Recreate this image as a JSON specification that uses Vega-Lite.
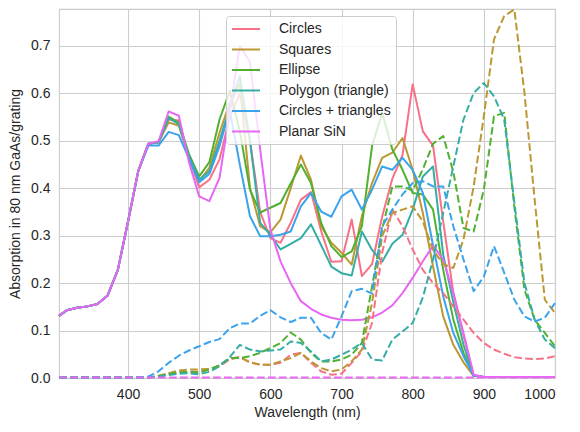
{
  "$schema": "https://vega.github.io/schema/vega-lite/v6.json",
  "autosize": "none",
  "width": 496,
  "height": 369,
  "padding": {"left": 59, "top": 9, "right": 25, "bottom": 54},
  "background": "white",
  "datasets": {
    "solid": [
      {"wl": 303, "Circles": 0.131, "Squares": 0.131, "Ellipse": 0.131, "Polygon (triangle)": 0.131, "Circles + triangles": 0.131, "Planar SiN": 0.131},
      {"wl": 314.3, "Circles": 0.143, "Squares": 0.143, "Ellipse": 0.143, "Polygon (triangle)": 0.143, "Circles + triangles": 0.143, "Planar SiN": 0.143},
      {"wl": 328.6, "Circles": 0.148, "Squares": 0.148, "Ellipse": 0.148, "Polygon (triangle)": 0.148, "Circles + triangles": 0.148, "Planar SiN": 0.148},
      {"wl": 342.9, "Circles": 0.151, "Squares": 0.151, "Ellipse": 0.151, "Polygon (triangle)": 0.151, "Circles + triangles": 0.151, "Planar SiN": 0.151},
      {"wl": 357.1, "Circles": 0.156, "Squares": 0.156, "Ellipse": 0.156, "Polygon (triangle)": 0.156, "Circles + triangles": 0.156, "Planar SiN": 0.156},
      {"wl": 371.4, "Circles": 0.174, "Squares": 0.174, "Ellipse": 0.174, "Polygon (triangle)": 0.174, "Circles + triangles": 0.174, "Planar SiN": 0.174},
      {"wl": 385.7, "Circles": 0.228, "Squares": 0.228, "Ellipse": 0.228, "Polygon (triangle)": 0.228, "Circles + triangles": 0.228, "Planar SiN": 0.228},
      {"wl": 400, "Circles": 0.33, "Squares": 0.33, "Ellipse": 0.33, "Polygon (triangle)": 0.33, "Circles + triangles": 0.33, "Planar SiN": 0.33},
      {"wl": 414.3, "Circles": 0.436, "Squares": 0.436, "Ellipse": 0.436, "Polygon (triangle)": 0.436, "Circles + triangles": 0.436, "Planar SiN": 0.436},
      {"wl": 428.6, "Circles": 0.494, "Squares": 0.494, "Ellipse": 0.494, "Polygon (triangle)": 0.494, "Circles + triangles": 0.49, "Planar SiN": 0.494},
      {"wl": 442.9, "Circles": 0.497, "Squares": 0.497, "Ellipse": 0.497, "Polygon (triangle)": 0.497, "Circles + triangles": 0.49, "Planar SiN": 0.499},
      {"wl": 457.1, "Circles": 0.545, "Squares": 0.539, "Ellipse": 0.551, "Polygon (triangle)": 0.548, "Circles + triangles": 0.519, "Planar SiN": 0.562},
      {"wl": 471.4, "Circles": 0.543, "Squares": 0.532, "Ellipse": 0.538, "Polygon (triangle)": 0.535, "Circles + triangles": 0.512, "Planar SiN": 0.553},
      {"wl": 485.7, "Circles": 0.465, "Squares": 0.465, "Ellipse": 0.472, "Polygon (triangle)": 0.468, "Circles + triangles": 0.462, "Planar SiN": 0.455},
      {"wl": 500, "Circles": 0.402, "Squares": 0.415, "Ellipse": 0.425, "Polygon (triangle)": 0.418, "Circles + triangles": 0.413, "Planar SiN": 0.383},
      {"wl": 514.3, "Circles": 0.418, "Squares": 0.443, "Ellipse": 0.455, "Polygon (triangle)": 0.436, "Circles + triangles": 0.43, "Planar SiN": 0.373},
      {"wl": 528.6, "Circles": 0.461, "Squares": 0.517, "Ellipse": 0.545, "Polygon (triangle)": 0.5, "Circles + triangles": 0.489, "Planar SiN": 0.422},
      {"wl": 542.9, "Circles": 0.55, "Squares": 0.58, "Ellipse": 0.605, "Polygon (triangle)": 0.57, "Circles + triangles": 0.565, "Planar SiN": 0.56},
      {"wl": 557.1, "Circles": 0.6, "Squares": 0.62, "Ellipse": 0.52, "Polygon (triangle)": 0.636, "Circles + triangles": 0.45, "Planar SiN": 0.7},
      {"wl": 571.4, "Circles": 0.5, "Squares": 0.4, "Ellipse": 0.397, "Polygon (triangle)": 0.5, "Circles + triangles": 0.341, "Planar SiN": 0.666},
      {"wl": 585.7, "Circles": 0.35, "Squares": 0.32, "Ellipse": 0.349, "Polygon (triangle)": 0.327, "Circles + triangles": 0.299, "Planar SiN": 0.482},
      {"wl": 600, "Circles": 0.295, "Squares": 0.307, "Ellipse": 0.359, "Polygon (triangle)": 0.302, "Circles + triangles": 0.299, "Planar SiN": 0.313},
      {"wl": 614.3, "Circles": 0.285, "Squares": 0.334, "Ellipse": 0.369, "Polygon (triangle)": 0.271, "Circles + triangles": 0.302, "Planar SiN": 0.246},
      {"wl": 628.6, "Circles": 0.327, "Squares": 0.4, "Ellipse": 0.41, "Polygon (triangle)": 0.283, "Circles + triangles": 0.309, "Planar SiN": 0.2},
      {"wl": 642.9, "Circles": 0.376, "Squares": 0.469, "Ellipse": 0.45, "Polygon (triangle)": 0.295, "Circles + triangles": 0.362, "Planar SiN": 0.162},
      {"wl": 657.1, "Circles": 0.392, "Squares": 0.418, "Ellipse": 0.411, "Polygon (triangle)": 0.324, "Circles + triangles": 0.39, "Planar SiN": 0.146},
      {"wl": 671.4, "Circles": 0.31, "Squares": 0.32, "Ellipse": 0.327, "Polygon (triangle)": 0.28, "Circles + triangles": 0.351, "Planar SiN": 0.134},
      {"wl": 685.7, "Circles": 0.245, "Squares": 0.285, "Ellipse": 0.278, "Polygon (triangle)": 0.235, "Circles + triangles": 0.34, "Planar SiN": 0.127},
      {"wl": 700, "Circles": 0.246, "Squares": 0.264, "Ellipse": 0.255, "Polygon (triangle)": 0.221, "Circles + triangles": 0.383, "Planar SiN": 0.123},
      {"wl": 714.3, "Circles": 0.334, "Squares": 0.239, "Ellipse": 0.267, "Polygon (triangle)": 0.216, "Circles + triangles": 0.397, "Planar SiN": 0.122},
      {"wl": 728.6, "Circles": 0.215, "Squares": 0.341, "Ellipse": 0.32, "Polygon (triangle)": 0.309, "Circles + triangles": 0.355, "Planar SiN": 0.123},
      {"wl": 742.9, "Circles": 0.24, "Squares": 0.411, "Ellipse": 0.489, "Polygon (triangle)": 0.27, "Circles + triangles": 0.397, "Planar SiN": 0.128},
      {"wl": 757.1, "Circles": 0.34, "Squares": 0.464, "Ellipse": 0.559, "Polygon (triangle)": 0.245, "Circles + triangles": 0.446, "Planar SiN": 0.138},
      {"wl": 771.4, "Circles": 0.42, "Squares": 0.475, "Ellipse": 0.482, "Polygon (triangle)": 0.283, "Circles + triangles": 0.439, "Planar SiN": 0.153},
      {"wl": 785.7, "Circles": 0.47, "Squares": 0.506, "Ellipse": 0.439, "Polygon (triangle)": 0.302, "Circles + triangles": 0.464, "Planar SiN": 0.179},
      {"wl": 800, "Circles": 0.619, "Squares": 0.439, "Ellipse": 0.39, "Polygon (triangle)": 0.355, "Circles + triangles": 0.439, "Planar SiN": 0.211},
      {"wl": 814.3, "Circles": 0.52, "Squares": 0.348, "Ellipse": 0.387, "Polygon (triangle)": 0.425, "Circles + triangles": 0.39, "Planar SiN": 0.246},
      {"wl": 828.6, "Circles": 0.49, "Squares": 0.235, "Ellipse": 0.355, "Polygon (triangle)": 0.446, "Circles + triangles": 0.28, "Planar SiN": 0.279},
      {"wl": 842.9, "Circles": 0.33, "Squares": 0.13, "Ellipse": 0.228, "Polygon (triangle)": 0.26, "Circles + triangles": 0.172, "Planar SiN": 0.25},
      {"wl": 857.1, "Circles": 0.18, "Squares": 0.07, "Ellipse": 0.123, "Polygon (triangle)": 0.16, "Circles + triangles": 0.095, "Planar SiN": 0.18},
      {"wl": 871.4, "Circles": 0.09, "Squares": 0.033, "Ellipse": 0.053, "Polygon (triangle)": 0.07, "Circles + triangles": 0.046, "Planar SiN": 0.095},
      {"wl": 885.7, "Circles": 0.005, "Squares": 0.004, "Ellipse": 0.005, "Polygon (triangle)": 0.005, "Circles + triangles": 0.005, "Planar SiN": 0.007},
      {"wl": 900, "Circles": 0.002, "Squares": 0.002, "Ellipse": 0.002, "Polygon (triangle)": 0.002, "Circles + triangles": 0.002, "Planar SiN": 0.002},
      {"wl": 914.3, "Circles": 0.002, "Squares": 0.002, "Ellipse": 0.002, "Polygon (triangle)": 0.002, "Circles + triangles": 0.002, "Planar SiN": 0.002},
      {"wl": 928.6, "Circles": 0.002, "Squares": 0.002, "Ellipse": 0.002, "Polygon (triangle)": 0.002, "Circles + triangles": 0.002, "Planar SiN": 0.002},
      {"wl": 942.9, "Circles": 0.002, "Squares": 0.002, "Ellipse": 0.002, "Polygon (triangle)": 0.002, "Circles + triangles": 0.002, "Planar SiN": 0.002},
      {"wl": 957.1, "Circles": 0.002, "Squares": 0.002, "Ellipse": 0.002, "Polygon (triangle)": 0.002, "Circles + triangles": 0.002, "Planar SiN": 0.002},
      {"wl": 971.4, "Circles": 0.002, "Squares": 0.002, "Ellipse": 0.002, "Polygon (triangle)": 0.002, "Circles + triangles": 0.002, "Planar SiN": 0.002},
      {"wl": 985.7, "Circles": 0.002, "Squares": 0.002, "Ellipse": 0.002, "Polygon (triangle)": 0.002, "Circles + triangles": 0.002, "Planar SiN": 0.002},
      {"wl": 1000, "Circles": 0.002, "Squares": 0.002, "Ellipse": 0.002, "Polygon (triangle)": 0.002, "Circles + triangles": 0.002, "Planar SiN": 0.002}
    ],
    "dashed": [
      {"wl": 303, "Circles": 0.001, "Squares": 0.001, "Ellipse": 0.001, "Polygon (triangle)": 0.001, "Circles + triangles": 0.001, "Planar SiN": 0.001},
      {"wl": 314.3, "Circles": 0.001, "Squares": 0.001, "Ellipse": 0.001, "Polygon (triangle)": 0.001, "Circles + triangles": 0.001, "Planar SiN": 0.001},
      {"wl": 328.6, "Circles": 0.001, "Squares": 0.001, "Ellipse": 0.001, "Polygon (triangle)": 0.001, "Circles + triangles": 0.001, "Planar SiN": 0.001},
      {"wl": 342.9, "Circles": 0.001, "Squares": 0.001, "Ellipse": 0.001, "Polygon (triangle)": 0.001, "Circles + triangles": 0.001, "Planar SiN": 0.001},
      {"wl": 357.1, "Circles": 0.001, "Squares": 0.001, "Ellipse": 0.001, "Polygon (triangle)": 0.001, "Circles + triangles": 0.001, "Planar SiN": 0.001},
      {"wl": 371.4, "Circles": 0.001, "Squares": 0.001, "Ellipse": 0.001, "Polygon (triangle)": 0.001, "Circles + triangles": 0.001, "Planar SiN": 0.001},
      {"wl": 385.7, "Circles": 0.001, "Squares": 0.001, "Ellipse": 0.001, "Polygon (triangle)": 0.001, "Circles + triangles": 0.001, "Planar SiN": 0.001},
      {"wl": 400, "Circles": 0.001, "Squares": 0.001, "Ellipse": 0.001, "Polygon (triangle)": 0.001, "Circles + triangles": 0.001, "Planar SiN": 0.001},
      {"wl": 414.3, "Circles": 0.001, "Squares": 0.001, "Ellipse": 0.001, "Polygon (triangle)": 0.001, "Circles + triangles": 0.001, "Planar SiN": 0.001},
      {"wl": 428.6, "Circles": 0.001, "Squares": 0.001, "Ellipse": 0.001, "Polygon (triangle)": 0.001, "Circles + triangles": 0.003, "Planar SiN": 0.001},
      {"wl": 442.9, "Circles": 0.004, "Squares": 0.005, "Ellipse": 0.004, "Polygon (triangle)": 0.003, "Circles + triangles": 0.014, "Planar SiN": 0.001},
      {"wl": 457.1, "Circles": 0.009, "Squares": 0.01, "Ellipse": 0.008, "Polygon (triangle)": 0.006, "Circles + triangles": 0.032, "Planar SiN": 0.001},
      {"wl": 471.4, "Circles": 0.012, "Squares": 0.016, "Ellipse": 0.012, "Polygon (triangle)": 0.009, "Circles + triangles": 0.047, "Planar SiN": 0.001},
      {"wl": 485.7, "Circles": 0.013, "Squares": 0.018, "Ellipse": 0.013, "Polygon (triangle)": 0.01, "Circles + triangles": 0.058, "Planar SiN": 0.001},
      {"wl": 500, "Circles": 0.013, "Squares": 0.018, "Ellipse": 0.012, "Polygon (triangle)": 0.008, "Circles + triangles": 0.067, "Planar SiN": 0.001},
      {"wl": 514.3, "Circles": 0.018, "Squares": 0.019, "Ellipse": 0.018, "Polygon (triangle)": 0.013, "Circles + triangles": 0.076, "Planar SiN": 0.001},
      {"wl": 528.6, "Circles": 0.025, "Squares": 0.026, "Ellipse": 0.027, "Polygon (triangle)": 0.025, "Circles + triangles": 0.082, "Planar SiN": 0.001},
      {"wl": 542.9, "Circles": 0.039, "Squares": 0.041, "Ellipse": 0.042, "Polygon (triangle)": 0.044, "Circles + triangles": 0.105, "Planar SiN": 0.001},
      {"wl": 557.1, "Circles": 0.044, "Squares": 0.044, "Ellipse": 0.042, "Polygon (triangle)": 0.07, "Circles + triangles": 0.115, "Planar SiN": 0.001},
      {"wl": 571.4, "Circles": 0.033, "Squares": 0.033, "Ellipse": 0.046, "Polygon (triangle)": 0.06, "Circles + triangles": 0.115, "Planar SiN": 0.001},
      {"wl": 585.7, "Circles": 0.028, "Squares": 0.028, "Ellipse": 0.053, "Polygon (triangle)": 0.056, "Circles + triangles": 0.131, "Planar SiN": 0.001},
      {"wl": 600, "Circles": 0.028, "Squares": 0.028, "Ellipse": 0.063, "Polygon (triangle)": 0.058, "Circles + triangles": 0.143, "Planar SiN": 0.001},
      {"wl": 614.3, "Circles": 0.032, "Squares": 0.035, "Ellipse": 0.074, "Polygon (triangle)": 0.06, "Circles + triangles": 0.128, "Planar SiN": 0.001},
      {"wl": 628.6, "Circles": 0.049, "Squares": 0.042, "Ellipse": 0.096, "Polygon (triangle)": 0.077, "Circles + triangles": 0.118, "Planar SiN": 0.001},
      {"wl": 642.9, "Circles": 0.053, "Squares": 0.053, "Ellipse": 0.081, "Polygon (triangle)": 0.074, "Circles + triangles": 0.127, "Planar SiN": 0.001},
      {"wl": 657.1, "Circles": 0.032, "Squares": 0.035, "Ellipse": 0.053, "Polygon (triangle)": 0.056, "Circles + triangles": 0.127, "Planar SiN": 0.001},
      {"wl": 671.4, "Circles": 0.014, "Squares": 0.021, "Ellipse": 0.035, "Polygon (triangle)": 0.035, "Circles + triangles": 0.095, "Planar SiN": 0.001},
      {"wl": 685.7, "Circles": 0.007, "Squares": 0.014, "Ellipse": 0.035, "Polygon (triangle)": 0.039, "Circles + triangles": 0.081, "Planar SiN": 0.001},
      {"wl": 700, "Circles": 0.009, "Squares": 0.018, "Ellipse": 0.039, "Polygon (triangle)": 0.049, "Circles + triangles": 0.13, "Planar SiN": 0.001},
      {"wl": 714.3, "Circles": 0.032, "Squares": 0.035, "Ellipse": 0.049, "Polygon (triangle)": 0.06, "Circles + triangles": 0.183, "Planar SiN": 0.001},
      {"wl": 728.6, "Circles": 0.056, "Squares": 0.06, "Ellipse": 0.074, "Polygon (triangle)": 0.074, "Circles + triangles": 0.188, "Planar SiN": 0.001},
      {"wl": 742.9, "Circles": 0.116, "Squares": 0.158, "Ellipse": 0.193, "Polygon (triangle)": 0.039, "Circles + triangles": 0.178, "Planar SiN": 0.001},
      {"wl": 757.1, "Circles": 0.264, "Squares": 0.299, "Ellipse": 0.313, "Polygon (triangle)": 0.037, "Circles + triangles": 0.32, "Planar SiN": 0.001},
      {"wl": 771.4, "Circles": 0.355, "Squares": 0.348, "Ellipse": 0.404, "Polygon (triangle)": 0.081, "Circles + triangles": 0.355, "Planar SiN": 0.001},
      {"wl": 785.7, "Circles": 0.32, "Squares": 0.355, "Ellipse": 0.404, "Polygon (triangle)": 0.098, "Circles + triangles": 0.387, "Planar SiN": 0.001},
      {"wl": 800, "Circles": 0.271, "Squares": 0.362, "Ellipse": 0.395, "Polygon (triangle)": 0.116, "Circles + triangles": 0.411, "Planar SiN": 0.001},
      {"wl": 814.3, "Circles": 0.228, "Squares": 0.33, "Ellipse": 0.44, "Polygon (triangle)": 0.17, "Circles + triangles": 0.415, "Planar SiN": 0.001},
      {"wl": 828.6, "Circles": 0.2, "Squares": 0.27, "Ellipse": 0.494, "Polygon (triangle)": 0.25, "Circles + triangles": 0.404, "Planar SiN": 0.001},
      {"wl": 842.9, "Circles": 0.179, "Squares": 0.24, "Ellipse": 0.51, "Polygon (triangle)": 0.348, "Circles + triangles": 0.404, "Planar SiN": 0.001},
      {"wl": 857.1, "Circles": 0.151, "Squares": 0.232, "Ellipse": 0.435, "Polygon (triangle)": 0.446, "Circles + triangles": 0.32, "Planar SiN": 0.001},
      {"wl": 871.4, "Circles": 0.123, "Squares": 0.292, "Ellipse": 0.316, "Polygon (triangle)": 0.545, "Circles + triangles": 0.25, "Planar SiN": 0.001},
      {"wl": 885.7, "Circles": 0.095, "Squares": 0.404, "Ellipse": 0.309, "Polygon (triangle)": 0.601, "Circles + triangles": 0.183, "Planar SiN": 0.001},
      {"wl": 900, "Circles": 0.074, "Squares": 0.552, "Ellipse": 0.397, "Polygon (triangle)": 0.622, "Circles + triangles": 0.214, "Planar SiN": 0.001},
      {"wl": 914.3, "Circles": 0.06, "Squares": 0.714, "Ellipse": 0.552, "Polygon (triangle)": 0.594, "Circles + triangles": 0.278, "Planar SiN": 0.001},
      {"wl": 928.6, "Circles": 0.051, "Squares": 0.763, "Ellipse": 0.559, "Polygon (triangle)": 0.545, "Circles + triangles": 0.222, "Planar SiN": 0.001},
      {"wl": 942.9, "Circles": 0.044, "Squares": 0.777, "Ellipse": 0.36, "Polygon (triangle)": 0.37, "Circles + triangles": 0.165, "Planar SiN": 0.001},
      {"wl": 957.1, "Circles": 0.041, "Squares": 0.601, "Ellipse": 0.186, "Polygon (triangle)": 0.2, "Circles + triangles": 0.13, "Planar SiN": 0.001},
      {"wl": 971.4, "Circles": 0.04, "Squares": 0.376, "Ellipse": 0.123, "Polygon (triangle)": 0.123, "Circles + triangles": 0.119, "Planar SiN": 0.001},
      {"wl": 985.7, "Circles": 0.041, "Squares": 0.165, "Ellipse": 0.095, "Polygon (triangle)": 0.081, "Circles + triangles": 0.127, "Planar SiN": 0.001},
      {"wl": 1000, "Circles": 0.046, "Squares": 0.137, "Ellipse": 0.067, "Polygon (triangle)": 0.063, "Circles + triangles": 0.158, "Planar SiN": 0.001}
    ]
  },
  "encoding": {
    "x": {
      "field": "wl",
      "type": "quantitative",
      "scale": {"domain": [303, 1000], "nice": false, "zero": false},
      "axis": {"values": [400, 500, 600, 700, 800, 900, 1000], "format": "d", "title": "Wavelength (nm)"}
    },
    "y": {
      "field": "a",
      "type": "quantitative",
      "scale": {"domain": [0, 0.778], "nice": false},
      "axis": {
        "values": [0, 0.1, 0.2, 0.3, 0.4, 0.5, 0.6, 0.7],
        "format": ".1f",
        "title": "Absorption in 80 nm GaAs/grating"
      }
    },
    "color": {
      "field": "series",
      "type": "nominal",
      "scale": {
        "domain": ["Circles", "Squares", "Ellipse", "Polygon (triangle)", "Circles + triangles", "Planar SiN"],
        "range": ["#f77189", "#bb9832", "#50b131", "#36ada4", "#3ba3ec", "#e866f4"]
      }
    }
  },
  "layer": [
    {
      "data": {"name": "solid"},
      "transform": [
        {"fold": ["Circles", "Squares", "Ellipse", "Polygon (triangle)", "Circles + triangles", "Planar SiN"], "as": ["series", "a"]}
      ],
      "mark": {"type": "line", "strokeWidth": 2, "strokeJoin": "round"},
      "encoding": {
        "color": {
          "field": "series",
          "type": "nominal",
          "sort": ["Circles", "Squares", "Ellipse", "Polygon (triangle)", "Circles + triangles", "Planar SiN"],
          "legend": {
            "title": null,
            "orient": "none",
            "legendX": 167,
            "legendY": 7,
            "symbolType": "M-2,0H2",
            "symbolSize": 196,
            "symbolStrokeWidth": 2,
            "symbolOffset": 7,
            "labelOffset": 25,
            "rowPadding": 5.5,
            "padding": 5,
            "fillColor": "rgba(255,255,255,0.8)",
            "strokeColor": "#cccccc",
            "cornerRadius": 3,
            "labelFont": "Liberation Sans",
            "labelFontSize": 14,
            "labelColor": "#262626"
          }
        }
      }
    },
    {
      "data": {"name": "dashed"},
      "transform": [
        {"fold": ["Circles", "Squares", "Ellipse", "Polygon (triangle)", "Circles + triangles", "Planar SiN"], "as": ["series", "a"]}
      ],
      "mark": {"type": "line", "strokeWidth": 2, "strokeDash": [7.7, 3.3], "strokeJoin": "round"},
      "encoding": {
        "color": {"field": "series", "type": "nominal", "legend": null}
      }
    }
  ],
  "config": {
    "font": "Liberation Sans",
    "view": {"stroke": "#cccccc", "strokeWidth": 1.1},
    "axis": {
      "grid": true,
      "gridColor": "#cccccc",
      "gridWidth": 1.1,
      "domain": false,
      "ticks": false,
      "labelFont": "Liberation Sans",
      "labelFontSize": 14,
      "labelColor": "#262626",
      "titleFont": "Liberation Sans",
      "titleFontSize": 14,
      "titleFontWeight": "normal",
      "titleColor": "#262626"
    },
    "axisX": {"labelPadding": 9, "titlePadding": 4},
    "axisY": {"labelPadding": 9, "titlePadding": 8}
  }
}
